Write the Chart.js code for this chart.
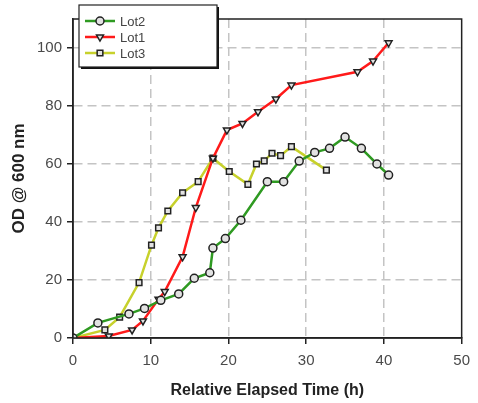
<!DOCTYPE html>
<html>
<head>
<meta charset="utf-8">
<script src="https://cdn.jsdelivr.net/npm/chart.js@4"></script>
<style>
    html, body { margin: 0; padding: 0; background: #ffffff; }
    #wrap { width: 478px; height: 403px; position: relative; }
</style>
</head>
<body>
<div id="wrap"><canvas id="growthChart"></canvas></div>
<script>
(function () {
    "use strict";

    // Lot2 (green, circles)
    const lot2Time = [0, 3.2, 7.2, 9.2, 11.3, 13.6, 15.6, 17.6, 18.0, 19.6, 21.6, 25.0, 27.1, 29.1, 31.1, 33.0, 35.0, 37.1, 39.1, 40.6];
    const lot2OD = [0, 5.2, 8.3, 10.2, 13.0, 15.2, 20.6, 22.5, 31.0, 34.3, 40.6, 53.9, 53.9, 61.0, 64.0, 65.4, 69.3, 65.4, 60.0, 56.2];

    // Lot1 (red, triangles)
    const lot1Time = [0, 4.6, 7.6, 9.0, 11.0, 11.8, 14.1, 15.8, 18.0, 19.8, 21.8, 23.8, 26.1, 28.1, 36.6, 38.6, 40.6];
    const lot1OD = [0, 0.7, 2.8, 5.9, 13.4, 16.0, 28.0, 45.0, 62.0, 71.7, 74.0, 78.0, 82.4, 87.2, 91.8, 95.5, 101.8];

    // Lot3 (yellow, squares)
    const lot3Time = [0, 4.1, 6.0, 8.5, 10.1, 11.0, 12.2, 14.1, 16.1, 18.0, 20.1, 22.5, 23.6, 24.6, 25.6, 26.7, 28.1, 32.6];
    const lot3OD = [0, 2.8, 7.2, 19.1, 32.0, 38.0, 43.8, 50.1, 53.9, 62.0, 57.4, 53.0, 60.0, 61.1, 63.7, 62.9, 66.0, 57.9];

    const xTicks = [0, 10, 20, 30, 40, 50];
    const yTicks = [0, 20, 40, 60, 80, 100];

    const greenColor = "#2f9a22";
    const redColor = "#ff1a1a";
    const yellowColor = "#c7d12c";
    const gridColor = "#c4c4c4";
    const tickColor = "#4a4a4a";
    const fontFamily = "'Liberation Sans', Arial, sans-serif";

    function toPoints(xs, ys) {
        return xs.map((x, i) => ({ x: x, y: ys[i] }));
    }

    function series(label, xs, ys, color, style, rotation) {
        return {
            label: label,
            data: toPoints(xs, ys),
            showLine: true,
            borderColor: color,
            borderWidth: 2.5,
            pointStyle: style,
            rotation: rotation,
            pointRadius: 4,
            pointBackgroundColor: "#e2e2e2",
            pointBorderColor: "#222222",
            pointBorderWidth: 1.5,
            tension: 0
        };
    }

    const datasets = [
        series("Lot2", lot2Time, lot2OD, greenColor, "circle", 0),
        series("Lot1", lot1Time, lot1OD, redColor, "triangle", 180),
        series("Lot3", lot3Time, lot3OD, yellowColor, "rect", 0)
    ];

    const frameAndLegend = {
        id: "frameAndLegend",
        afterDraw(chart) {
            const { ctx, chartArea } = chart;
            ctx.save();
            ctx.strokeStyle = "#222222";
            ctx.lineWidth = 1.5;
            ctx.strokeRect(chartArea.left, chartArea.top, chartArea.right - chartArea.left, chartArea.bottom - chartArea.top);

            // legend box with shadow
            const bx = 79, by = 5, bw = 138, bh = 62;
            ctx.fillStyle = "#111111";
            ctx.fillRect(bx + 2, by + 2, bw, bh);
            ctx.fillStyle = "#ffffff";
            ctx.fillRect(bx, by, bw, bh);
            ctx.strokeStyle = "#222222";
            ctx.lineWidth = 1.2;
            ctx.strokeRect(bx, by, bw, bh);

            const rows = [21, 37, 53];
            ctx.font = "13px " + fontFamily;
            ctx.textBaseline = "middle";
            ctx.textAlign = "left";
            datasets.forEach((ds, i) => {
                const y = rows[i];
                ctx.strokeStyle = ds.borderColor;
                ctx.lineWidth = 2.5;
                ctx.beginPath();
                ctx.moveTo(85, y);
                ctx.lineTo(115, y);
                ctx.stroke();
                ctx.fillStyle = ds.pointBackgroundColor;
                ctx.strokeStyle = ds.pointBorderColor;
                ctx.lineWidth = ds.pointBorderWidth;
                Chart.helpers.drawPoint(ctx, {
                    pointStyle: ds.pointStyle,
                    rotation: ds.rotation,
                    radius: 4,
                    borderWidth: ds.pointBorderWidth
                }, 100, y);
                ctx.fillStyle = "#444444";
                ctx.fillText(ds.label, 120, y + 1);
            });
            ctx.restore();
        }
    };

    new Chart(document.getElementById("growthChart"), {
        type: "scatter",
        data: { datasets: datasets },
        plugins: [frameAndLegend],
        options: {
            responsive: true,
            maintainAspectRatio: false,
            animation: false,
            layout: { padding: { left: 0, right: 10, top: 19, bottom: 0 } },
            plugins: {
                legend: { display: false },
                tooltip: { enabled: false }
            },
            scales: {
                x: {
                    type: "linear",
                    min: 0,
                    max: 50,
                    afterBuildTicks: (scale) => { scale.ticks = xTicks.map((v) => ({ value: v })); },
                    afterFit: (scale) => { scale.height = 65; },
                    title: {
                        display: true,
                        text: "Relative Elapsed Time (h)",
                        color: "#222222",
                        font: { family: fontFamily, size: 16, weight: "bold" },
                        padding: { top: 0, bottom: 3 }
                    },
                    border: { color: "#222222", width: 1.5, dash: [9, 5] },
                    grid: {
                        color: (c) => (c.tick && (c.tick.value === 0 || c.tick.value === 50)) ? "rgba(0,0,0,0)" : gridColor,
                        tickColor: "#222222",
                        lineWidth: 1.5,
                        tickLength: 6,
                        tickBorderDash: []
                    },
                    ticks: {
                        color: tickColor,
                        padding: 8,
                        font: { family: fontFamily, size: 15 }
                    }
                },
                y: {
                    type: "linear",
                    min: 0,
                    max: 110,
                    afterBuildTicks: (scale) => { scale.ticks = yTicks.map((v) => ({ value: v })); },
                    afterFit: (scale) => { scale.width = 73; },
                    title: {
                        display: true,
                        text: "OD @ 600 nm",
                        color: "#222222",
                        font: { family: fontFamily, size: 17, weight: "bold" },
                        padding: { top: 9, bottom: 0 }
                    },
                    border: { color: "#222222", width: 1.5, dash: [9, 5] },
                    grid: {
                        color: (c) => (c.tick && c.tick.value === 0) ? "rgba(0,0,0,0)" : gridColor,
                        tickColor: "#222222",
                        lineWidth: 1.5,
                        tickLength: 6,
                        tickBorderDash: []
                    },
                    ticks: {
                        color: tickColor,
                        padding: 5,
                        font: { family: fontFamily, size: 15 }
                    }
                }
            }
        }
    });
}());
</script>
</body>
</html>
